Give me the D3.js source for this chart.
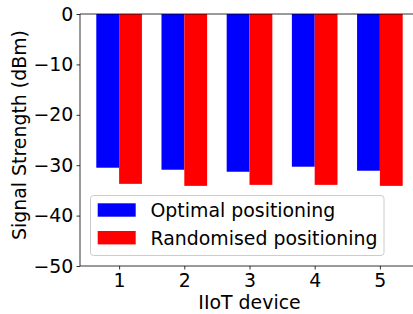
<!DOCTYPE html>
<html><head><meta charset="utf-8">
<script src="https://cdn.jsdelivr.net/npm/d3@7"></script>
<style>body{margin:0;background:#fff}svg{display:block}</style>
</head><body>
<svg id="c" width="413" height="314"></svg>
<script>
const devices = [1, 2, 3, 4, 5];
const optimal = [-30.5, -30.9, -31.3, -30.3, -31.1];
const randomised = [-33.7, -34.1, -33.9, -33.9, -34.1];
const yTicks = [0, -10, -20, -30, -40, -50];
const seriesNames = ["Optimal positioning", "Randomised positioning"];
const colors = ["#0000ff", "#ff0000"];

const svg = d3.select("#c");
const L = 80, R = 419, T = 14, B = 266;
const font = "DejaVu Sans, sans-serif";
const fs = 18.9;
const x = d3.scaleLinear().domain([0.4, 5.6]).range([L, R]);
const y = d3.scaleLinear().domain([-50, 0]).range([B, T]);
const w = 0.35;

const g = svg.append("g");
[optimal, randomised].forEach((vals, si) => {
  g.selectAll(null).data(vals).enter().append("rect")
    .attr("x", (d, i) => x(devices[i] + (si === 0 ? -w : 0)))
    .attr("width", (d, i) => x(devices[i] + w) - x(devices[i]))
    .attr("y", y(0))
    .attr("height", d => y(d) - y(0))
    .attr("fill", colors[si]);
});

const fmt = d => d < 0 ? "\u2212" + Math.abs(d) : String(d);
const ya = svg.append("g").attr("transform", `translate(${L},0)`)
  .call(d3.axisLeft(y).tickValues(yTicks).tickFormat(fmt).tickSize(3.5).tickPadding(3.2));
const xa = svg.append("g").attr("transform", `translate(0,${B})`)
  .call(d3.axisBottom(x).tickValues(devices).tickFormat(d3.format("d")).tickSize(3.5).tickPadding(3.6));
[ya, xa].forEach(a => {
  a.selectAll("text").attr("font-family", font).attr("font-size", fs).attr("fill", "#000");
  a.selectAll("line").attr("stroke", "#000").attr("stroke-width", 0.8);
  a.select(".domain").remove();
});
// spines
[[L, T, R, T], [L, B, R, B], [L, T, L, B], [R, T, R, B]].forEach(s => {
  svg.append("line").attr("x1", s[0]).attr("y1", s[1]).attr("x2", s[2]).attr("y2", s[3])
    .attr("stroke", "#000").attr("stroke-width", 0.8);
});

svg.append("text").attr("x", (L + R) / 2).attr("y", 309).attr("text-anchor", "middle")
  .attr("font-family", font).attr("font-size", fs).text("IIoT device");
svg.append("text").attr("transform", "translate(26,135) rotate(-90)").attr("text-anchor", "middle")
  .attr("font-family", font).attr("font-size", fs).text("Signal Strength (dBm)");

// legend
const lg = svg.append("g");
lg.append("rect").attr("x", 90.5).attr("y", 195.5).attr("width", 293.5).attr("height", 60)
  .attr("rx", 3).attr("fill", "#fff").attr("fill-opacity", 0.8).attr("stroke", "#cccccc").attr("stroke-width", 1);
seriesNames.forEach((n, i) => {
  const yy = 203.3 + i * 27.7;
  lg.append("rect").attr("x", 97.7).attr("y", yy).attr("width", 38).attr("height", 13.4).attr("fill", colors[i]);
  lg.append("text").attr("x", 150.5).attr("y", yy + 14).attr("font-family", font).attr("font-size", fs).text(n);
});
</script>
</body></html>
